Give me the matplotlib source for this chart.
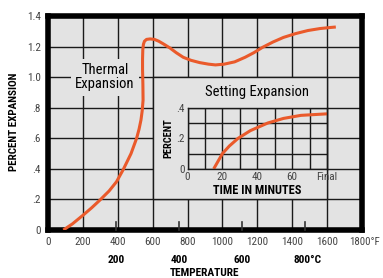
import matplotlib.pyplot as plt
from matplotlib.patches import Rectangle

plt.rcParams['font.family'] = ['Liberation Sans Narrow', 'Roboto Condensed', 'Liberation Sans', 'DejaVu Sans']

# main curve: temperature (F) vs percent expansion
temp_f = [88, 140, 202, 250, 298, 350, 393, 432, 476, 508, 522, 533, 540, 545,
          544, 542, 542, 543.5, 547, 553, 565, 585, 610, 635, 665, 700, 735, 775,
          820, 870, 920, 960, 1010, 1070, 1130, 1180, 1230, 1290, 1350, 1420,
          1490, 1560, 1620, 1650]
expansion = [0.0, 0.04, 0.098, 0.145, 0.196, 0.255, 0.316, 0.397, 0.5, 0.6, 0.66,
             0.72, 0.78, 0.85, 0.95, 1.05, 1.12, 1.18, 1.215, 1.235, 1.247, 1.25,
             1.247, 1.235, 1.215, 1.19, 1.16, 1.13, 1.11, 1.095, 1.085, 1.08,
             1.085, 1.1, 1.13, 1.16, 1.195, 1.23, 1.26, 1.285, 1.305, 1.318,
             1.325, 1.328]

# setting expansion inset
minutes = [15, 17, 20, 24, 29, 36, 46, 55, 65, 80]
setting = [0.0, 0.04, 0.1, 0.15, 0.2, 0.25, 0.3, 0.33, 0.35, 0.36]

f_ticks = [0, 200, 400, 600, 800, 1000, 1200, 1400, 1600, 1800]
f_labels = ['0', '200', '400', '600', '800', '1000', '1200', '1400', '1600', '']
y_ticks = [0, 0.2, 0.4, 0.6, 0.8, 1.0, 1.2, 1.4]
y_labels = ['0', '.2', '.4', '.6', '.8', '1.0', '1.2', '1.4']
c_ticks_f = [392, 752, 1112, 1472]
c_labels = ['200', '400', '600', '800°C']

t_ticks = [0, 20, 40, 60, 80]
t_labels = ['0', '20', '40', '60', 'Final']
p_ticks = [0, 0.2, 0.4]
p_labels = ['0', '.2', '.4']

bg = '#e3e3e3'
orange = '#ea5a2b'
txtgray = '#444444'
gridc = '#1a1a1a'

fig = plt.figure(figsize=(3.83, 2.78), dpi=100)
ax = fig.add_axes([48/383, 1-230/278, 314/383, 214/278])
ax.set_facecolor(bg)
ax.set_xlim(0, 1800)
ax.set_ylim(0, 1.4)

ax.set_xticks(f_ticks)
ax.set_xticklabels(f_labels)
ax.set_yticks(y_ticks)
ax.set_yticklabels(y_labels)
ax.tick_params(length=0, labelsize=8, labelcolor=txtgray, pad=5)
ax.annotate('1800°F', (1800, 0), xytext=(-9, -5), textcoords='offset points',
            ha='left', va='top', fontsize=7.8, color=txtgray, annotation_clip=False)

ax.grid(True, color=gridc, lw=1.0)
ax.set_axisbelow(True)
for s in ax.spines.values():
    s.set_linewidth(4)
    s.set_color('black')

# celsius ticks and labels
for xc, lab in zip(c_ticks_f, c_labels):
    ax.plot([xc, xc], [0, 0.05], color='#333333', lw=1.2, zorder=3, clip_on=False)
    ha = 'left' if lab.endswith('C') else 'center'
    dx = -8 if ha == 'left' else 0
    ax.annotate(lab, (xc, 0), xytext=(dx, -21.3), textcoords='offset points',
                ha=ha, va='center', fontsize=8.2, fontweight='bold',
                annotation_clip=False)

fig.text(205/383, 1-273/278, 'TEMPERATURE', ha='center', va='center',
         fontsize=8.2, fontweight='bold')
fig.text(14/383, 1-122/278, 'PERCENT EXPANSION', ha='center', va='center',
         rotation=90, fontsize=8, fontweight='bold')

# inset box covering main grid
ax.add_patch(Rectangle((600, 0.2), 1000, 0.8, facecolor=bg, edgecolor=gridc,
                       lw=1.0, zorder=1.5))

ax.plot(temp_f, expansion, color=orange, lw=2.2, zorder=4,
        solid_capstyle='butt', solid_joinstyle='round')

ax.text(327, 1.0, 'Thermal\nExpansion', ha='center', va='center', fontsize=10.5,
        linespacing=1.05, zorder=3,
        bbox=dict(facecolor=bg, edgecolor='none', pad=3))

ax.text(1198, 0.90, 'Setting Expansion', ha='center', va='center', fontsize=10.5,
        zorder=3)

# inset
axi = ax.inset_axes([800, 0.4, 800, 0.4], transform=ax.transData)
axi.set_facecolor(bg)
axi.set_xlim(0, 80)
axi.set_ylim(0, 0.4)
axi.set_xticks(t_ticks)
axi.set_xticks(range(0, 81, 10), minor=True)
axi.set_xticklabels(t_labels)
axi.set_yticks(p_ticks)
axi.set_yticks([0.1, 0.3], minor=True)
axi.set_yticklabels(p_labels)
axi.grid(True, which='both', color=gridc, lw=1.0)
axi.tick_params(which='both', length=0, labelsize=8, labelcolor=txtgray, pad=2)
for s in axi.spines.values():
    s.set_linewidth(1.0)
    s.set_color(gridc)
axi.plot(minutes, setting, color=orange, lw=2.2, solid_capstyle='butt',
         solid_joinstyle='round', clip_on=False)
axi.set_xlabel('TIME IN MINUTES', fontsize=8.8, fontweight='bold', labelpad=2)
axi.set_ylabel('PERCENT', fontsize=7.5, fontweight='bold', labelpad=2)

fig.savefig('out.png', dpi=100)
